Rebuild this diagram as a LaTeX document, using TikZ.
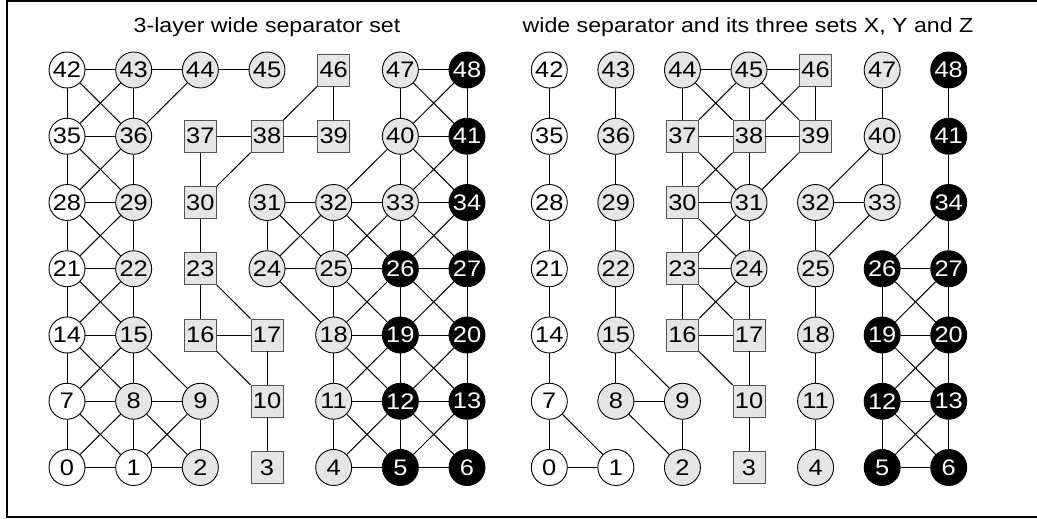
\documentclass[tikz,border=0pt]{standalone}
\usepackage{fontspec}
\setmainfont[FakeStretch=1.13]{Liberation Sans}
\definecolor{sepgray}{HTML}{E6E6E6}
\definecolor{sqedge}{HTML}{555555}
\begin{document}
\begin{tikzpicture}[x=1pt,y=-1pt,
  vtx/.style={inner sep=0pt, font=\fontsize{22.5}{22.5}\selectfont, line width=0.9pt},
  wnode/.style={vtx, circle, draw=black, fill=white, minimum size=36pt},
  gnode/.style={vtx, circle, draw=black, fill=sepgray, minimum size=36pt},
  bnode/.style={vtx, circle, draw=black, fill=black, text=white, minimum size=36pt},
  snode/.style={vtx, rectangle, draw=sqedge, fill=sepgray, minimum size=32pt},
  link/.style={line width=1pt, draw=black},
  title/.style={anchor=base, font=\fontsize{20.5}{20.5}\selectfont}]
\useasboundingbox (0,0) rectangle (1037,519);

% outer frame, open on the right
\draw[line width=2pt] (1045,1) -- (6.8,1) -- (6.8,516.8) -- (1045,516.8);

% titles
\node[title] (ltitle) at (267,33) {3-layer wide separator set};
\node[title] (rtitle) at (748,33) {wide separator and its three sets X, Y and Z};

% vertex types of the 7x7 grid (index = 7*row + column, row 0 at the bottom)
\def\vertexlist{0/wnode,1/wnode,2/gnode,3/snode,4/gnode,5/bnode,6/bnode,
  7/wnode,8/gnode,9/gnode,10/snode,11/gnode,12/bnode,13/bnode,
  14/wnode,15/gnode,16/snode,17/snode,18/gnode,19/bnode,20/bnode,
  21/wnode,22/gnode,23/snode,24/gnode,25/gnode,26/bnode,27/bnode,
  28/wnode,29/gnode,30/snode,31/gnode,32/gnode,33/gnode,34/bnode,
  35/wnode,36/gnode,37/snode,38/snode,39/snode,40/gnode,41/bnode,
  42/wnode,43/gnode,44/gnode,45/gnode,46/snode,47/gnode,48/bnode}

\foreach \n/\s in \vertexlist {
  \pgfmathtruncatemacro\c{mod(\n,7)}
  \pgfmathtruncatemacro\r{div(\n,7)}
  \node[style=\s] (L\n) at ({67+66.67*\c},{467.5-66.25*\r}) {\n};
  \node[style=\s] (R\n) at ({549.3+66.57*\c},{467.5-66.25*\r}) {\n};
}

% left graph: 3-layer wide separator set
\foreach \a/\b in {42/43,43/44,44/45,47/48,
  42/35,42/36,43/35,43/36,44/36,46/38,46/39,47/40,47/41,48/40,48/41,
  35/36,37/38,38/39,40/41,
  35/28,35/29,36/28,36/29,37/30,38/30,40/32,40/33,40/34,41/33,41/34,
  28/29,31/32,32/33,33/34,
  28/21,28/22,29/21,29/22,30/23,31/24,31/25,32/24,32/25,32/26,33/25,33/26,33/27,34/26,34/27,
  21/22,24/25,25/26,26/27,
  21/14,21/15,22/14,22/15,23/16,23/17,24/18,25/18,25/19,26/18,26/19,26/20,27/19,27/20,
  14/15,16/17,18/19,19/20,
  14/7,14/8,15/7,15/8,15/9,16/10,17/10,18/11,18/12,19/11,19/12,19/13,20/12,20/13,
  7/8,8/9,11/12,12/13,
  7/0,7/1,8/0,8/1,8/2,9/1,9/2,10/3,11/4,11/5,12/4,12/5,12/6,13/5,13/6,
  0/1,1/2,4/5,5/6}
  \draw[link] (L\a) -- (L\b);

% right graph: the separator and its sets X, Y and Z
\foreach \a/\b in {42/35,35/28,28/21,21/14,14/7,7/0,7/1,0/1,
  43/36,36/29,29/22,22/15,15/8,15/9,8/9,8/2,9/2,
  44/45,45/46,44/37,44/38,45/37,45/38,45/39,46/38,46/39,
  37/38,38/39,37/30,37/31,38/30,38/31,39/31,
  30/31,30/23,30/24,31/23,31/24,
  23/24,23/16,23/17,24/16,24/17,
  16/17,16/10,17/10,10/3,
  47/40,40/32,40/33,32/33,32/25,33/25,25/18,18/11,11/4,
  48/41,41/34,34/26,34/27,26/27,26/19,26/20,27/19,27/20,
  19/20,19/12,19/13,20/12,20/13,12/13,12/5,12/6,13/5,13/6,5/6}
  \draw[link] (R\a) -- (R\b);
\end{tikzpicture}
\end{document}
